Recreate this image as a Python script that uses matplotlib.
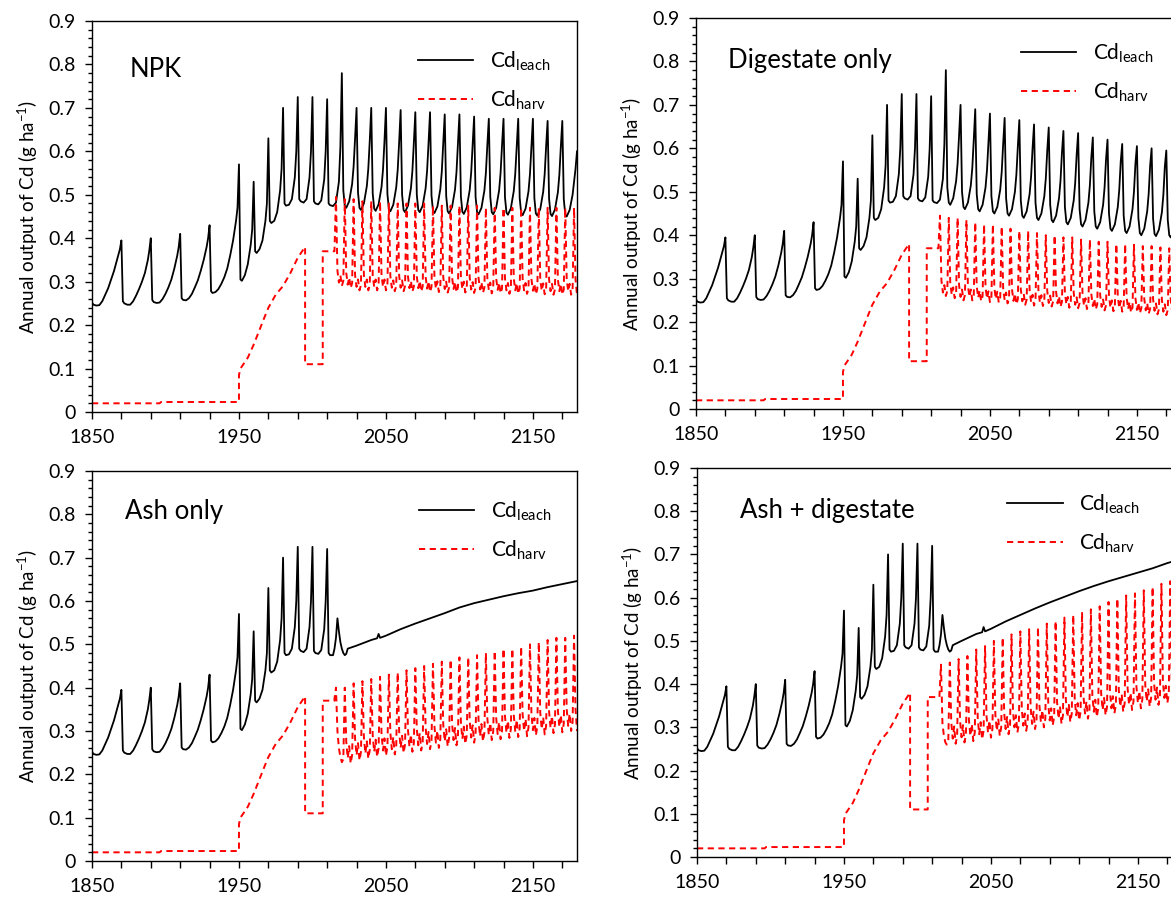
import matplotlib
matplotlib.use("Agg")
import matplotlib.pyplot as plt
from matplotlib.ticker import MultipleLocator, FuncFormatter

plt.rcParams["font.family"] = ["Lato", "DejaVu Sans"]
plt.rcParams["mathtext.fontset"] = "custom"
plt.rcParams["mathtext.rm"] = "Lato"
plt.rcParams["mathtext.it"] = "Lato:italic"
plt.rcParams["mathtext.bf"] = "Lato:bold"

# ── Cd leaching, shared history 1850-2010 ────────────────────────────────────
HIST_YEARS = [1850, 1851, 1853, 1855, 1857, 1859, 1861, 1863, 1865, 1867, 1869, 1870,
              1871, 1872, 1874, 1876, 1878, 1880, 1882, 1884, 1886, 1888, 1889, 1890,
              1891, 1892, 1894, 1896, 1898, 1900, 1902, 1904, 1906, 1908, 1909, 1910,
              1911, 1912, 1914, 1916, 1918, 1920, 1922, 1924, 1926, 1928, 1929, 1930,
              1931, 1932, 1934, 1936, 1938, 1940, 1942, 1944, 1946, 1948, 1949, 1950,
              1951, 1952, 1954, 1956, 1958, 1959, 1960,
              1961, 1962, 1964, 1966, 1968, 1969, 1970,
              1971, 1972, 1974, 1976, 1978, 1979, 1980,
              1981, 1982, 1984, 1986, 1988, 1989, 1990,
              1991, 1992, 1994, 1996, 1998, 1999, 2000,
              2001, 2002, 2004, 2006, 2008, 2009, 2010]
HIST_LEACH = [0.252, 0.247, 0.245, 0.246, 0.255, 0.270, 0.285, 0.305, 0.325, 0.350, 0.375, 0.395,
              0.255, 0.250, 0.247, 0.247, 0.255, 0.268, 0.283, 0.300, 0.320, 0.350, 0.372, 0.400,
              0.258, 0.253, 0.251, 0.252, 0.260, 0.272, 0.287, 0.305, 0.330, 0.360, 0.380, 0.410,
              0.262, 0.258, 0.257, 0.262, 0.272, 0.287, 0.303, 0.325, 0.350, 0.380, 0.400, 0.430,
              0.278, 0.274, 0.276, 0.283, 0.295, 0.310, 0.330, 0.360, 0.395, 0.440, 0.470, 0.570,
              0.305, 0.302, 0.315, 0.340, 0.385, 0.420, 0.530,
              0.370, 0.366, 0.375, 0.395, 0.440, 0.480, 0.630,
              0.440, 0.435, 0.440, 0.460, 0.510, 0.560, 0.700,
              0.480, 0.475, 0.477, 0.490, 0.540, 0.600, 0.725,
              0.490, 0.485, 0.482, 0.490, 0.540, 0.600, 0.725,
              0.485, 0.480, 0.478, 0.487, 0.535, 0.600, 0.720]

# NPK / digestate: last historical cycle up to the 2020 peak
PEAK2020_YEARS = [2011, 2012, 2014, 2016, 2018, 2019, 2020]
PEAK2020_LEACH = [0.480, 0.476, 0.474, 0.482, 0.530, 0.610, 0.780]

# future leaching, sampled at these years inside every decade 2020-2180
FUT_LEACH_YEARS = [d + o for d in range(2020, 2180, 10) for o in (1, 2, 3, 5, 7, 8, 9, 10)]
NPK_LEACH_FUT = [0.510, 0.475, 0.470, 0.485, 0.525, 0.565, 0.630, 0.700,
                 0.505, 0.470, 0.465, 0.480, 0.520, 0.560, 0.625, 0.700,
                 0.503, 0.468, 0.463, 0.478, 0.518, 0.558, 0.623, 0.700,
                 0.502, 0.467, 0.462, 0.477, 0.517, 0.557, 0.622, 0.695,
                 0.500, 0.465, 0.460, 0.475, 0.515, 0.555, 0.620, 0.690,
                 0.500, 0.465, 0.460, 0.475, 0.515, 0.555, 0.620, 0.690,
                 0.498, 0.463, 0.458, 0.473, 0.513, 0.553, 0.618, 0.685,
                 0.497, 0.462, 0.457, 0.472, 0.512, 0.552, 0.617, 0.685,
                 0.496, 0.461, 0.456, 0.471, 0.511, 0.551, 0.616, 0.680,
                 0.495, 0.460, 0.455, 0.470, 0.510, 0.550, 0.615, 0.675,
                 0.495, 0.460, 0.455, 0.470, 0.510, 0.550, 0.615, 0.675,
                 0.494, 0.459, 0.454, 0.469, 0.509, 0.549, 0.614, 0.675,
                 0.493, 0.458, 0.453, 0.468, 0.508, 0.548, 0.613, 0.675,
                 0.492, 0.457, 0.452, 0.467, 0.507, 0.547, 0.612, 0.670,
                 0.491, 0.456, 0.451, 0.466, 0.506, 0.546, 0.611, 0.670,
                 0.490, 0.455, 0.450, 0.465, 0.500, 0.530, 0.560, 0.600]
DIG_LEACH_FUT = [0.510, 0.475, 0.470, 0.485, 0.525, 0.565, 0.630, 0.700,
                 0.500, 0.465, 0.460, 0.475, 0.515, 0.555, 0.620, 0.690,
                 0.495, 0.460, 0.455, 0.470, 0.510, 0.550, 0.615, 0.680,
                 0.490, 0.455, 0.450, 0.465, 0.505, 0.545, 0.610, 0.670,
                 0.485, 0.450, 0.445, 0.460, 0.500, 0.540, 0.605, 0.665,
                 0.480, 0.445, 0.440, 0.455, 0.495, 0.535, 0.600, 0.655,
                 0.475, 0.440, 0.435, 0.450, 0.490, 0.530, 0.595, 0.648,
                 0.470, 0.435, 0.430, 0.445, 0.485, 0.525, 0.590, 0.640,
                 0.465, 0.430, 0.425, 0.440, 0.480, 0.520, 0.585, 0.635,
                 0.460, 0.425, 0.420, 0.435, 0.475, 0.515, 0.580, 0.625,
                 0.455, 0.420, 0.415, 0.430, 0.470, 0.510, 0.575, 0.620,
                 0.450, 0.415, 0.410, 0.425, 0.465, 0.505, 0.570, 0.610,
                 0.445, 0.410, 0.405, 0.420, 0.460, 0.500, 0.565, 0.605,
                 0.440, 0.405, 0.400, 0.415, 0.455, 0.495, 0.560, 0.600,
                 0.438, 0.403, 0.398, 0.413, 0.453, 0.493, 0.558, 0.595,
                 0.435, 0.400, 0.395, 0.410, 0.450, 0.475, 0.500, 0.530]

# ash scenarios: small 2017 peak, then a slow steady rise
ASH_LEACH_YEARS = [2011, 2012, 2014, 2015, 2016, 2017, 2018, 2019, 2020, 2021, 2022, 2023, 2024,
                   2030, 2040, 2044, 2045, 2046, 2050,
                   2060, 2070, 2080, 2090, 2100, 2110, 2120, 2130, 2140, 2150, 2160, 2170, 2180]
ASH_LEACH = [0.480, 0.475, 0.475, 0.490, 0.515, 0.560, 0.530, 0.505, 0.490, 0.480, 0.475, 0.478, 0.490,
             0.497, 0.510, 0.514, 0.524, 0.515, 0.520,
             0.535, 0.548, 0.560, 0.572, 0.585, 0.595, 0.603, 0.611, 0.618, 0.624, 0.632, 0.639, 0.646]
ASHDIG_LEACH = [0.480, 0.475, 0.475, 0.490, 0.515, 0.560, 0.530, 0.505, 0.490, 0.480, 0.475, 0.478, 0.490,
                0.500, 0.516, 0.520, 0.532, 0.522, 0.528,
                0.545, 0.560, 0.575, 0.589, 0.602, 0.615, 0.627, 0.638, 0.648, 0.658, 0.668, 0.680, 0.690]

# ── Cd harvest, shared history 1850-2015 ─────────────────────────────────────
HARV_HIST_YEARS = [1850, 1896, 1897, 1950, 1950, 1951, 1956, 1960, 1967, 1970, 1975,
                   1980, 1985, 1990, 1994, 1995, 1995, 2007, 2007, 2015, 2015]
HARV_HIST = [0.020, 0.020, 0.023, 0.023, 0.085, 0.100, 0.125, 0.155, 0.215, 0.240, 0.270,
             0.290, 0.320, 0.355, 0.375, 0.380, 0.110, 0.110, 0.370, 0.370, 0.375]

# annual harvest values 2016-2180 (one row per 6-year rotation)
HARV_FUT_YEARS = list(range(2016, 2181))
NPK_HARV_FUT = [0.495, 0.325, 0.298, 0.315, 0.290, 0.302,
                0.490, 0.320, 0.293, 0.310, 0.285, 0.297,
                0.490, 0.315, 0.288, 0.305, 0.280, 0.292,
                0.485, 0.315, 0.288, 0.305, 0.280, 0.292,
                0.485, 0.315, 0.288, 0.305, 0.280, 0.292,
                0.485, 0.315, 0.288, 0.305, 0.280, 0.292,
                0.480, 0.313, 0.286, 0.303, 0.278, 0.290,
                0.480, 0.313, 0.286, 0.303, 0.278, 0.290,
                0.480, 0.312, 0.285, 0.302, 0.277, 0.289,
                0.480, 0.312, 0.285, 0.302, 0.277, 0.289,
                0.480, 0.311, 0.284, 0.301, 0.276, 0.288,
                0.475, 0.311, 0.284, 0.301, 0.276, 0.288,
                0.475, 0.310, 0.283, 0.300, 0.275, 0.287,
                0.475, 0.310, 0.283, 0.300, 0.275, 0.287,
                0.475, 0.310, 0.283, 0.300, 0.275, 0.287,
                0.475, 0.309, 0.282, 0.299, 0.274, 0.286,
                0.475, 0.309, 0.282, 0.299, 0.274, 0.286,
                0.470, 0.308, 0.281, 0.298, 0.273, 0.285,
                0.470, 0.308, 0.281, 0.298, 0.273, 0.285,
                0.470, 0.307, 0.280, 0.297, 0.272, 0.284,
                0.470, 0.307, 0.280, 0.297, 0.272, 0.284,
                0.470, 0.307, 0.280, 0.297, 0.272, 0.284,
                0.470, 0.306, 0.279, 0.296, 0.271, 0.283,
                0.470, 0.306, 0.279, 0.296, 0.271, 0.283,
                0.470, 0.305, 0.278, 0.295, 0.270, 0.282,
                0.470, 0.305, 0.278, 0.295, 0.270, 0.282,
                0.470, 0.305, 0.278, 0.295, 0.270, 0.282,
                0.470, 0.305, 0.270]
DIG_HARV_FUT = [0.445, 0.295, 0.268, 0.285, 0.260, 0.272,
                0.440, 0.290, 0.263, 0.280, 0.255, 0.267,
                0.440, 0.285, 0.258, 0.275, 0.250, 0.262,
                0.435, 0.285, 0.258, 0.275, 0.250, 0.262,
                0.430, 0.283, 0.256, 0.273, 0.248, 0.260,
                0.425, 0.281, 0.254, 0.271, 0.246, 0.258,
                0.425, 0.280, 0.253, 0.270, 0.245, 0.257,
                0.420, 0.278, 0.251, 0.268, 0.243, 0.255,
                0.415, 0.276, 0.249, 0.266, 0.241, 0.253,
                0.410, 0.275, 0.248, 0.265, 0.240, 0.252,
                0.410, 0.273, 0.246, 0.263, 0.238, 0.250,
                0.405, 0.272, 0.245, 0.262, 0.237, 0.249,
                0.400, 0.271, 0.244, 0.261, 0.236, 0.248,
                0.400, 0.270, 0.243, 0.260, 0.235, 0.247,
                0.395, 0.268, 0.241, 0.258, 0.233, 0.245,
                0.395, 0.267, 0.240, 0.257, 0.232, 0.244,
                0.390, 0.265, 0.238, 0.255, 0.230, 0.242,
                0.390, 0.264, 0.237, 0.254, 0.229, 0.241,
                0.385, 0.262, 0.235, 0.252, 0.227, 0.239,
                0.385, 0.260, 0.233, 0.250, 0.225, 0.237,
                0.380, 0.259, 0.232, 0.249, 0.224, 0.236,
                0.380, 0.257, 0.230, 0.247, 0.222, 0.234,
                0.378, 0.255, 0.228, 0.245, 0.220, 0.232,
                0.375, 0.254, 0.227, 0.244, 0.219, 0.231,
                0.375, 0.253, 0.226, 0.243, 0.218, 0.230,
                0.372, 0.251, 0.224, 0.241, 0.216, 0.228,
                0.370, 0.250, 0.223, 0.240, 0.215, 0.227,
                0.370, 0.250, 0.215]
ASH_HARV_FUT = [0.400, 0.300, 0.260, 0.240, 0.228, 0.235,
                0.400, 0.275, 0.237, 0.265, 0.225, 0.245,
                0.410, 0.282, 0.244, 0.272, 0.232, 0.252,
                0.415, 0.286, 0.248, 0.276, 0.236, 0.256,
                0.420, 0.290, 0.252, 0.280, 0.240, 0.260,
                0.425, 0.293, 0.255, 0.283, 0.243, 0.263,
                0.430, 0.296, 0.258, 0.286, 0.246, 0.266,
                0.435, 0.299, 0.261, 0.289, 0.249, 0.269,
                0.440, 0.302, 0.264, 0.292, 0.252, 0.272,
                0.445, 0.305, 0.267, 0.295, 0.255, 0.275,
                0.450, 0.308, 0.270, 0.298, 0.258, 0.278,
                0.455, 0.311, 0.273, 0.301, 0.261, 0.281,
                0.460, 0.314, 0.276, 0.304, 0.264, 0.284,
                0.465, 0.317, 0.279, 0.307, 0.267, 0.287,
                0.470, 0.320, 0.282, 0.310, 0.270, 0.290,
                0.470, 0.323, 0.285, 0.313, 0.273, 0.293,
                0.475, 0.326, 0.288, 0.316, 0.276, 0.296,
                0.480, 0.329, 0.291, 0.319, 0.279, 0.299,
                0.485, 0.331, 0.293, 0.321, 0.281, 0.301,
                0.490, 0.334, 0.296, 0.324, 0.284, 0.304,
                0.490, 0.336, 0.298, 0.326, 0.286, 0.306,
                0.495, 0.338, 0.300, 0.328, 0.288, 0.308,
                0.500, 0.340, 0.302, 0.330, 0.290, 0.310,
                0.505, 0.342, 0.304, 0.332, 0.292, 0.312,
                0.510, 0.345, 0.307, 0.335, 0.295, 0.315,
                0.515, 0.347, 0.309, 0.337, 0.297, 0.317,
                0.515, 0.350, 0.312, 0.340, 0.300, 0.320,
                0.520, 0.350, 0.300]
ASHDIG_HARV_FUT = [0.445, 0.310, 0.280, 0.265, 0.260, 0.270,
                   0.450, 0.312, 0.274, 0.302, 0.262, 0.282,
                   0.458, 0.315, 0.277, 0.305, 0.265, 0.285,
                   0.465, 0.318, 0.280, 0.308, 0.268, 0.288,
                   0.480, 0.322, 0.284, 0.312, 0.272, 0.292,
                   0.488, 0.326, 0.288, 0.316, 0.276, 0.296,
                   0.500, 0.330, 0.292, 0.320, 0.280, 0.300,
                   0.508, 0.334, 0.296, 0.324, 0.284, 0.304,
                   0.515, 0.338, 0.300, 0.328, 0.288, 0.308,
                   0.522, 0.342, 0.304, 0.332, 0.292, 0.312,
                   0.527, 0.346, 0.308, 0.336, 0.296, 0.316,
                   0.532, 0.350, 0.312, 0.340, 0.300, 0.320,
                   0.540, 0.354, 0.316, 0.344, 0.304, 0.324,
                   0.546, 0.358, 0.320, 0.348, 0.308, 0.328,
                   0.554, 0.362, 0.324, 0.352, 0.312, 0.332,
                   0.560, 0.366, 0.328, 0.356, 0.316, 0.336,
                   0.567, 0.370, 0.332, 0.360, 0.320, 0.340,
                   0.573, 0.374, 0.336, 0.364, 0.324, 0.344,
                   0.580, 0.378, 0.340, 0.368, 0.328, 0.348,
                   0.590, 0.382, 0.344, 0.372, 0.332, 0.352,
                   0.598, 0.386, 0.348, 0.376, 0.336, 0.356,
                   0.605, 0.390, 0.352, 0.380, 0.340, 0.360,
                   0.610, 0.394, 0.356, 0.384, 0.344, 0.364,
                   0.617, 0.398, 0.360, 0.388, 0.348, 0.368,
                   0.625, 0.402, 0.364, 0.392, 0.352, 0.372,
                   0.632, 0.406, 0.368, 0.396, 0.356, 0.376,
                   0.638, 0.410, 0.372, 0.400, 0.360, 0.380,
                   0.640, 0.410, 0.362]

TITLES = ["NPK", "Digestate only", "Ash only", "Ash + digestate"]
YLABEL = r"Annual output of Cd (g ha$^{-1}$)"
XLABEL_YEARS = [1850, 1950, 2050, 2150]

# ── Panels: pixel boxes (left, top, bottom) in the 1171 x 900 canvas ─────────
W, H = 1171, 900
BOXES = [(92, 21, 412), (696, 18, 409), (92, 471, 861), (697, 468, 857)]
TITLE_POS = [(0.078, 0.875), (0.066, 0.892), (0.068, 0.895), (0.089, 0.892)]
LEG_POS = [(0.672, 0.927), (0.67, 0.94), (0.674, 0.927), (0.64, 0.937)]

leach = [
    (HIST_YEARS + PEAK2020_YEARS + FUT_LEACH_YEARS, HIST_LEACH + PEAK2020_LEACH + NPK_LEACH_FUT),
    (HIST_YEARS + PEAK2020_YEARS + FUT_LEACH_YEARS, HIST_LEACH + PEAK2020_LEACH + DIG_LEACH_FUT),
    (HIST_YEARS + ASH_LEACH_YEARS, HIST_LEACH + ASH_LEACH),
    (HIST_YEARS + ASH_LEACH_YEARS, HIST_LEACH + ASHDIG_LEACH),
]
harv = [HARV_HIST + NPK_HARV_FUT, HARV_HIST + DIG_HARV_FUT,
        HARV_HIST + ASH_HARV_FUT, HARV_HIST + ASHDIG_HARV_FUT]
harv_years = HARV_HIST_YEARS + HARV_FUT_YEARS

fig = plt.figure(figsize=(W / 100, H / 100), dpi=100)

for i, (left, top, bottom) in enumerate(BOXES):
    ax = fig.add_axes([left / W, 1 - bottom / H, 485 / W, (bottom - top) / H])

    ax.plot(leach[i][0], leach[i][1], color="black", lw=1.3, label=r"Cd$_{\mathrm{leach}}$")
    ax.plot(harv_years, harv[i], color="#ff0000", lw=1.4, dashes=(3.2, 2.3),
            label=r"Cd$_{\mathrm{harv}}$")

    ax.set_xlim(1850, 2180)
    ax.set_ylim(0, 0.9)
    ax.set_xticks(range(1850, 2180, 20))
    ax.set_xticklabels([str(y) if y in XLABEL_YEARS else "" for y in range(1850, 2180, 20)])
    ax.yaxis.set_major_locator(MultipleLocator(0.1))
    ax.yaxis.set_minor_locator(MultipleLocator(0.02))
    ax.yaxis.set_major_formatter(FuncFormatter(lambda v, _: f"{v:.1f}".rstrip("0").rstrip(".") if v else "0"))

    for sp in ax.spines.values():
        sp.set_linewidth(1.0)
    ax.tick_params(which="both", direction="out", top=False, right=False, width=1.0)
    ax.tick_params(which="major", length=5, labelsize=14, pad=7)
    ax.tick_params(axis="y", which="minor", length=3)
    ax.set_ylabel(YLABEL, fontsize=13.5, labelpad=6)

    ax.text(TITLE_POS[i][0], TITLE_POS[i][1], TITLES[i], transform=ax.transAxes,
            fontsize=18.5, ha="left", va="center")
    ax.legend(loc="upper left", bbox_to_anchor=LEG_POS[i], frameon=False, fontsize=15,
              handlelength=2.65, handletextpad=0.8, labelspacing=0.75, borderpad=0,
              borderaxespad=0)

fig.savefig("out.png", dpi=100)
